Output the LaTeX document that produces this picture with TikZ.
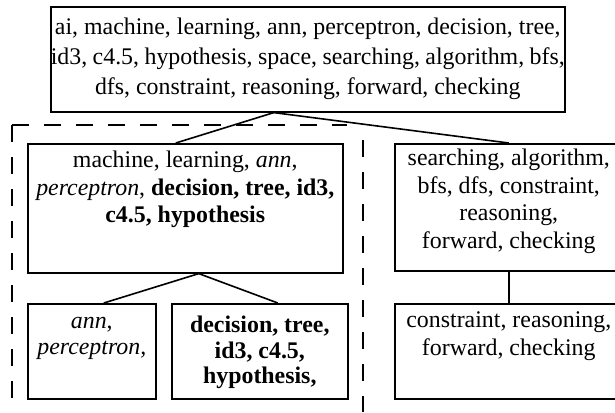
\documentclass[tikz,border=0pt]{standalone}
\usepackage{fontspec}
\setmainfont{Liberation Serif}
\usetikzlibrary{calc}

% #1 width, #2 height, #3 first baseline (all in px), #4 baselineskip (pt), #5 text
\newcommand\boxtext[5]{%
  \parbox[c][\dimexpr #2pt*3/4\relax][t]{\dimexpr #1pt*3/4\relax}{%
    \fontsize{17.9}{#4}\selectfont\centering
    \rule{0pt}{\dimexpr #3pt*3/4\relax}#5\par}}

\tikzset{
  box/.style={draw, line width=1.2pt, inner sep=0pt, anchor=north west},
  edge/.style={line width=1.2pt},
  frame/.style={line width=1.2pt, dash pattern=on 12.5pt off 11.5pt},
}

\begin{document}
\begin{tikzpicture}[x=0.75pt, y=-0.75pt]
  \useasboundingbox (0,0) rectangle (615,412);

  % dashed frame around the learning branch
  \draw[frame] (12,125) -- (12,412);
  \draw[frame] (12,125) -- (347,125);
  \draw[frame] (363,140) -- (363,412);

  % root
  \node[box] (top) at (50,6) {\boxtext{514}{105}{28}{22.5}{ai, machine, learning, ann, perceptron, decision, tree,\\
    id3, c4.5, hypothesis, space, searching, algorithm, bfs,\\
    dfs, constraint, reasoning, forward, checking}};

  % second level
  \node[box] (lm) at (27,143) {\boxtext{315}{129}{24}{20.6}{machine, learning, \textit{ann},\\
    \textit{perceptron}, \textbf{decision, tree, id3,}\\
    \textbf{c4.5, hypothesis}}};
  \node[box] (rm) at (394,143) {\boxtext{228}{127}{22}{20.6}{searching, algorithm,\\
    bfs, dfs, constraint,\\ reasoning,\\ forward, checking}};

  % third level
  \node[box] (ann) at (27,303) {\boxtext{128}{95}{25}{19}{\textit{ann},\\ \textit{perceptron,}}};
  \node[box] (dec) at (171,303) {\boxtext{176}{95}{29}{19}{\textbf{decision, tree,\\ id3, c4.5,\\ hypothesis,}}};
  \node[box] (rb) at (394,303) {\boxtext{228}{95}{24}{20.6}{constraint, reasoning,\\ forward, checking}};

  % connectors
  \draw[edge] ($(top.south)+(-34,0)$) -- ($(lm.north)+(-9.5,0)$);
  \draw[edge] ($(top.south)+(-34,0)$) -- (rm.north);
  \draw[edge] ($(lm.south)+(13.5,0)$) -- ($(ann.north)+(12,0)$);
  \draw[edge] ($(lm.south)+(13.5,0)$) -- ($(dec.north)+(18,0)$);
  \draw[edge] (rm.south) -- (rb.north);
\end{tikzpicture}
\end{document}
